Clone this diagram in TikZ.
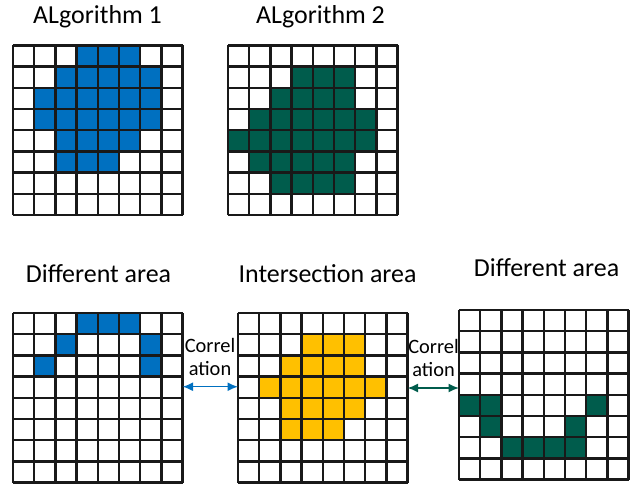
\documentclass[tikz,border=0pt]{standalone}
\usepackage{fontspec}
\setmainfont{Carlito}
\usetikzlibrary{arrows.meta}

\definecolor{algoblue}{RGB}{0,112,192}
\definecolor{algogreen}{RGB}{0,92,76}
\definecolor{algoyellow}{RGB}{255,192,0}

\begin{document}
\begin{tikzpicture}[x=0.5cm,y=0.5cm,
    cellgrid/.style={step=1,line width=1.5pt,color=black!90},
    title/.style={anchor=base,font=\fontsize{17.4}{20}\selectfont},
    corrlabel/.style={align=center,inner sep=0pt,font=\fontsize{13.7}{15.6}\selectfont},
    corrarrow/.style={{Latex[length=7pt,width=6pt]}-{Latex[length=7pt,width=6pt]},line width=1pt}]
  \useasboundingbox (0,0) rectangle (30.236,22.972);

  % lower-left corners of the five grids
  \coordinate (g1) at (0.613,12.83);
  \coordinate (g2) at (10.755,12.83);
  \coordinate (g3) at (0.613,0.208);
  \coordinate (g4) at (11.226,0.208);
  \coordinate (g5) at (21.65,0.349);
  % right edges where the links start
  \coordinate (g3r) at (8.613,0.208);
  \coordinate (g4r) at (19.226,0.208);

  % algorithm 1
  \begin{scope}[shift={(g1)}]
    \foreach \y/\a/\b in {7/3/5, 6/2/6, 5/1/6, 4/1/6, 3/2/5, 2/2/4}
      \fill[algoblue] (\a,\y) rectangle (\b+1,\y+1);
    \draw[cellgrid] (0,0) grid (8,8);
  \end{scope}

  % algorithm 2
  \begin{scope}[shift={(g2)}]
    \foreach \y/\a/\b in {6/3/5, 5/2/5, 4/1/6, 3/0/6, 2/1/5, 1/2/5}
      \fill[algogreen] (\a,\y) rectangle (\b+1,\y+1);
    \draw[cellgrid] (0,0) grid (8,8);
  \end{scope}

  % 1 minus 2
  \begin{scope}[shift={(g3)}]
    \foreach \y/\a/\b in {7/3/5, 6/2/2, 6/6/6, 5/1/1, 5/6/6}
      \fill[algoblue] (\a,\y) rectangle (\b+1,\y+1);
    \draw[cellgrid] (0,0) grid (8,8);
  \end{scope}

  % 1 and 2
  \begin{scope}[shift={(g4)}]
    \foreach \y/\a/\b in {6/3/5, 5/2/5, 4/1/6, 3/2/5, 2/2/4}
      \fill[algoyellow] (\a,\y) rectangle (\b+1,\y+1);
    \draw[cellgrid] (0,0) grid (8,8);
  \end{scope}

  % 2 minus 1
  \begin{scope}[shift={(g5)}]
    \foreach \y/\a/\b in {3/0/1, 3/6/6, 2/1/1, 2/5/5, 1/2/5}
      \fill[algogreen] (\a,\y) rectangle (\b+1,\y+1);
    \draw[cellgrid] (0,0) grid (8,8);
  \end{scope}

  % titles
  \node[title] (t1) at (4.6,21.84) {ALgorithm 1};
  \node[title] (t2) at (15.12,21.84) {ALgorithm 2};
  \node[title] (t3) at (4.646,9.67) {Different area};
  \node[title] (t4) at (15.45,9.67) {Intersection area};
  \node[title] (t5) at (25.78,9.906) {Different area};

  % correlation links
  \node[corrlabel] (c1) at (9.906,6.13) {Correl\\ation};
  \node[corrlabel] (c2) at (20.45,6.10) {Correl\\ation};
  \coordinate (a1) at (9.9,4.73);
  \coordinate (a2) at (20.45,4.67);
  \draw[corrarrow,algoblue] (a1 -| g3r) -- (a1 -| g4);
  \draw[corrarrow,algogreen] (a2 -| g4r) -- (a2 -| g5);
\end{tikzpicture}
\end{document}
